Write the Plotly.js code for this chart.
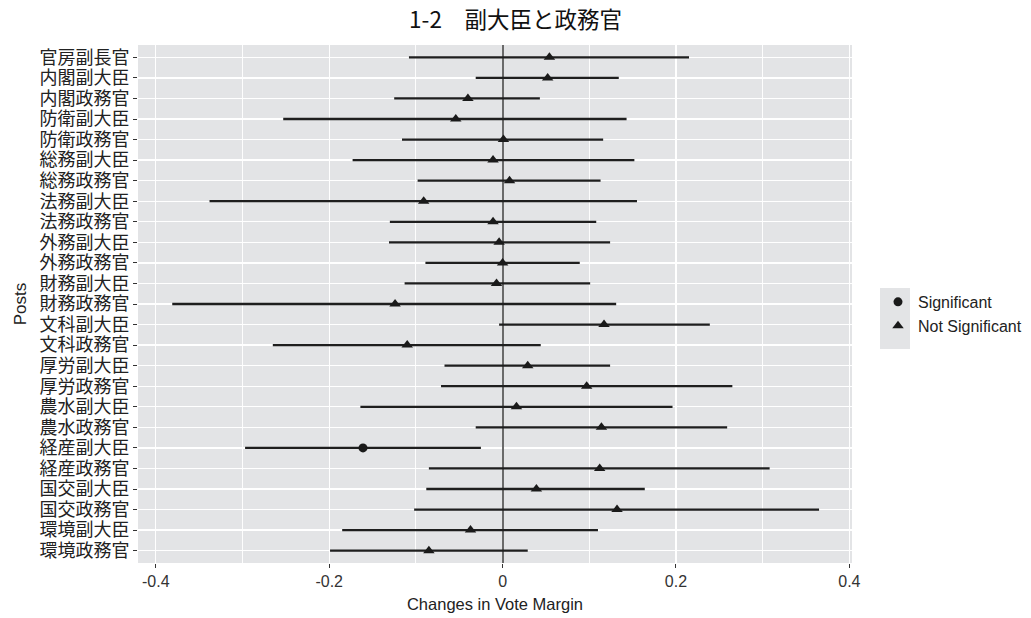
<!DOCTYPE html>
<html>
<head>
<meta charset="utf-8">
<script src="https://cdn.plot.ly/plotly-3.0.1.min.js"></script>
<style>html,body{margin:0;padding:0;background:#fff;}#chart{width:1031px;height:618px;}</style>
</head>
<body>
<div id="chart"></div>
<script>
const posts = ['官房副長官','内閣副大臣','内閣政務官','防衛副大臣','防衛政務官','総務副大臣','総務政務官','法務副大臣','法務政務官','外務副大臣','外務政務官','財務副大臣','財務政務官','文科副大臣','文科政務官','厚労副大臣','厚労政務官','農水副大臣','農水政務官','経産副大臣','経産政務官','国交副大臣','国交政務官','環境副大臣','環境政務官'];
const estimate = [0.054, 0.052, -0.040, -0.054, 0.001, -0.011, 0.008, -0.091, -0.011, -0.004, 0.000, -0.007, -0.124, 0.117, -0.110, 0.029, 0.097, 0.016, 0.114, -0.161, 0.112, 0.039, 0.132, -0.037, -0.085];
const lower = [-0.108, -0.031, -0.125, -0.253, -0.116, -0.173, -0.098, -0.338, -0.130, -0.131, -0.089, -0.113, -0.381, -0.004, -0.265, -0.067, -0.071, -0.164, -0.031, -0.297, -0.085, -0.088, -0.102, -0.185, -0.199];
const upper = [0.215, 0.134, 0.043, 0.143, 0.116, 0.152, 0.113, 0.155, 0.108, 0.124, 0.089, 0.101, 0.131, 0.239, 0.044, 0.124, 0.265, 0.196, 0.259, -0.025, 0.308, 0.164, 0.365, 0.110, 0.029];
const significance = ['Not Significant','Not Significant','Not Significant','Not Significant','Not Significant','Not Significant','Not Significant','Not Significant','Not Significant','Not Significant','Not Significant','Not Significant','Not Significant','Not Significant','Not Significant','Not Significant','Not Significant','Not Significant','Not Significant','Significant','Not Significant','Not Significant','Not Significant','Not Significant','Not Significant'];
const groups = ['Significant','Not Significant'];
const xTickVals = [-0.4, -0.2, 0, 0.2, 0.4];
const xTickText = ['-0.4', '-0.2', '0', '0.2', '0.4'];

const symbols = {'Significant': 'circle', 'Not Significant': 'triangle-up'};
const sizes = {'Significant': 9, 'Not Significant': 10};

const lineX = [], lineY = [];
posts.forEach((p, i) => { lineX.push(lower[i], upper[i], null); lineY.push(p, p, null); });

const traces = [{
  type: 'scatter', mode: 'lines', x: lineX, y: lineY,
  line: {color: '#1e1e1e', width: 2.3}, showlegend: false, hoverinfo: 'skip'
}];
groups.forEach(g => {
  const idx = posts.map((p, i) => i).filter(i => significance[i] === g);
  traces.push({
    type: 'scatter', mode: 'markers', name: g,
    x: idx.map(i => estimate[i]), y: idx.map(i => posts[i]),
    marker: {symbol: symbols[g], size: sizes[g], color: '#1a1a1a', line: {width: 0}}
  });
});

const layout = {
  width: 1031, height: 618,
  margin: {l: 138, r: 179, t: 45, b: 55},
  paper_bgcolor: '#ffffff', plot_bgcolor: '#E3E4E6',
  title: {text: '1-2　副大臣と政務官', x: 0.5, xref: 'container', xanchor: 'center', y: 0.967, yref: 'container', yanchor: 'middle',
          font: {family: 'Noto Sans CJK JP, sans-serif', size: 22.5, color: '#111'}},
  xaxis: {
    range: [-0.4205, 0.403], tickmode: 'array', tickvals: xTickVals, ticktext: xTickText,
    showgrid: true, gridcolor: '#ffffff', gridwidth: 1.2,
    minor: {dtick: 0.1, tick0: 0, showgrid: true, gridcolor: '#ffffff', gridwidth: 0.9, ticks: ''},
    zeroline: true, zerolinecolor: '#6a6a6a', zerolinewidth: 2,
    ticks: 'outside', ticklen: 4, tickwidth: 1, tickcolor: '#333',
    tickfont: {family: 'Liberation Sans, Arial, sans-serif', size: 16, color: '#333'},
    title: {text: 'Changes in Vote Margin', standoff: 9, font: {family: 'Liberation Sans, Arial, sans-serif', size: 16.5, color: '#222'}},
    showline: false, fixedrange: true, automargin: false
  },
  yaxis: {
    type: 'category', categoryorder: 'array', categoryarray: posts,
    tickmode: 'array', tickvals: posts, ticktext: posts,
    range: [posts.length - 0.4, -0.6],
    showgrid: true, gridcolor: '#ffffff', gridwidth: 1.3, zeroline: false,
    ticks: 'outside', ticklen: 4, tickwidth: 1, tickcolor: '#333',
    tickfont: {family: 'Liberation Sans, Noto Sans CJK JP, sans-serif', size: 18, color: '#222'},
    title: {text: 'Posts', standoff: 8, font: {family: 'Liberation Sans, Arial, sans-serif', size: 17, color: '#222'}},
    showline: false, fixedrange: true, automargin: false
  },
  legend: {
    x: 0.8516, xref: 'container', xanchor: 'left', y: 0.492, yref: 'container', yanchor: 'middle',
    bgcolor: 'rgba(0,0,0,0)', borderwidth: 0,
    font: {family: 'Liberation Sans, Arial, sans-serif', size: 16, color: '#222'}
  },
  shapes: [{
    type: 'rect', xref: 'paper', yref: 'paper', layer: 'below',
    x0: 1.0392, x1: 1.0812, y0: 0.413, y1: 0.531,
    fillcolor: '#E3E4E6', line: {width: 0}
  }],
  showlegend: true
};

Plotly.newPlot('chart', traces, layout, {displayModeBar: false, staticPlot: true});
</script>
</body>
</html>
